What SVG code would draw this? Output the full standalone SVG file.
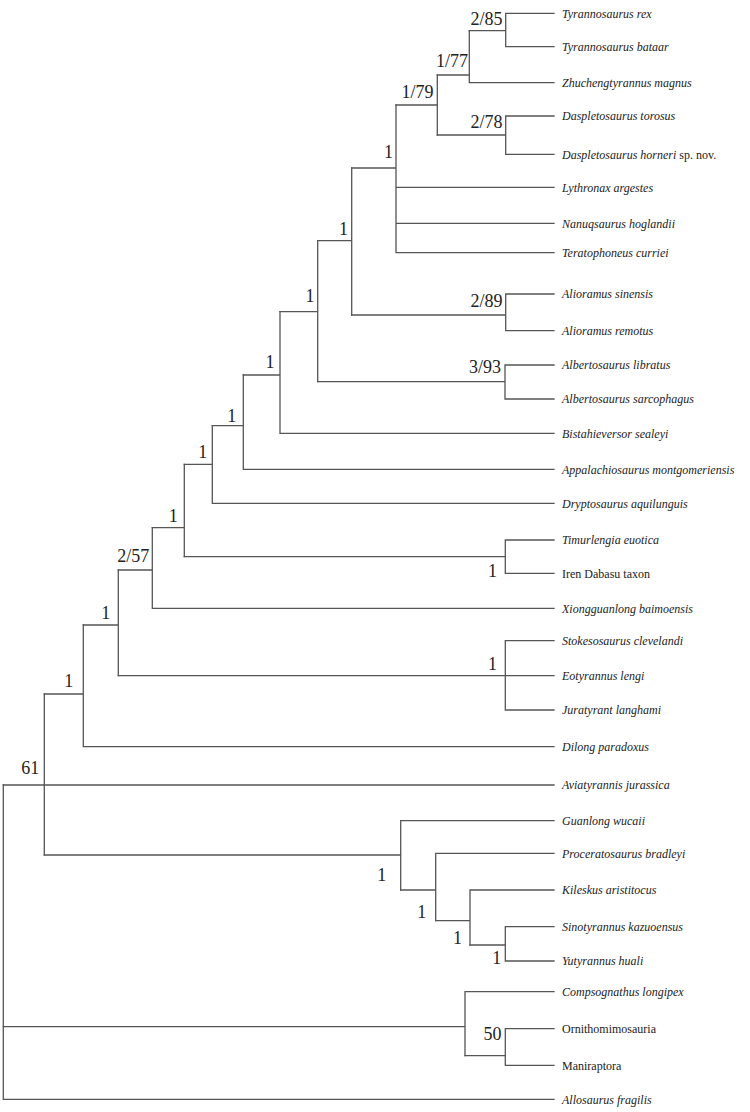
<svg xmlns="http://www.w3.org/2000/svg" width="750" height="1112" viewBox="0 0 750 1112">
<style>
.br{fill:none;stroke:#555;stroke-width:1.3;stroke-linecap:square}
.tip{font-family:"Liberation Serif","Times New Roman",serif;font-size:12px;font-style:italic;fill:#222}
.rm{font-style:normal}
.sup{font-family:"Liberation Serif","Times New Roman",serif;font-size:18px;fill:#222;text-anchor:end}
</style>
<rect width="750" height="1112" fill="#fff"/>
<g id="connectors" class="br">
<path d="M505.7,13.3H554M505.7,46.7H554M505.7,13.3V46.7M469.3,30.7H505.7"/>
<path d="M469.3,82.7H554M469.3,30.7V82.7M437.3,75H469.3"/>
<path d="M505.7,116H554M505.7,154.3H554M505.7,116V154.3M437.3,135H505.7"/>
<path d="M437.3,75V135M396,105H437.3"/>
<path d="M396,187.3H554M396,223.3H554M396,252.7H554M396,105V252.7M351.7,168H396"/>
<path d="M505.7,294H554M505.7,330.7H554M505.7,294V330.7M351.7,315H505.7"/>
<path d="M351.7,168V315M317.7,240.7H351.7"/>
<path d="M505,365H554M505,399H554M505,365V399M317.7,381.7H505"/>
<path d="M317.7,240.7V381.7M280,311.7H317.7"/>
<path d="M280,433.3H554M280,311.7V433.3M243.3,375H280"/>
<path d="M243.3,469.3H554M243.3,375V469.3M212.3,425.7H243.3"/>
<path d="M212.3,503.3H554M212.3,425.7V503.3M184.3,464.3H212.3"/>
<path d="M505.3,540H554M505.3,573.3H554M505.3,540V573.3M184.3,556.7H505.3"/>
<path d="M184.3,464.3V556.7M152.3,527.7H184.3"/>
<path d="M152.3,608.3H554M152.3,527.7V608.3M118.3,570H152.3"/>
<path d="M505.3,640.7H554M505.3,675.7H554M505.3,710H554M505.3,640.7V710M118.3,675.7H505.3"/>
<path d="M118.3,570V675.7M83.3,625H118.3"/>
<path d="M83.3,746.7H554M83.3,625V746.7M44.3,694H83.3"/>
<path d="M44.3,785H554"/>
<path d="M505.3,926.7H554M505.3,961H554M505.3,926.7V961M470,945H505.3"/>
<path d="M470,890H554M470,890V945M435.7,920.7H470"/>
<path d="M435.7,853.3H554M435.7,853.3V920.7M400.7,890H435.7"/>
<path d="M400.7,820.7H554M400.7,820.7V890M44.3,855H400.7"/>
<path d="M44.3,694V855M3.3,785H44.3"/>
<path d="M505.3,1028.7H554M505.3,1065.3H554M505.3,1028.7V1065.3M465,1055.7H505.3"/>
<path d="M465,991.7H554M465,991.7V1055.7M3.3,1026.7H465"/>
<path d="M3.3,1099.3H554M3.3,785V1099.3"/>
</g>
<g id="tip-01"><text class="tip" x="562" y="17.5">Tyrannosaurus rex</text></g>
<g id="tip-02"><text class="tip" x="562" y="50.9">Tyrannosaurus bataar</text></g>
<g id="tip-03"><text class="tip" x="562" y="86.9">Zhuchengtyrannus magnus</text></g>
<g id="tip-04"><text class="tip" x="562" y="120.2">Daspletosaurus torosus</text></g>
<g id="tip-05"><text class="tip" x="562" y="158.5">Daspletosaurus horneri<tspan class="rm"> sp. nov.</tspan></text></g>
<g id="tip-06"><text class="tip" x="562" y="191.5">Lythronax argestes</text></g>
<g id="tip-07"><text class="tip" x="562" y="227.5">Nanuqsaurus hoglandii</text></g>
<g id="tip-08"><text class="tip" x="562" y="256.9">Teratophoneus curriei</text></g>
<g id="tip-09"><text class="tip" x="562" y="298.2">Alioramus sinensis</text></g>
<g id="tip-10"><text class="tip" x="562" y="334.9">Alioramus remotus</text></g>
<g id="tip-11"><text class="tip" x="562" y="369.2">Albertosaurus libratus</text></g>
<g id="tip-12"><text class="tip" x="562" y="403.2">Albertosaurus sarcophagus</text></g>
<g id="tip-13"><text class="tip" x="562" y="437.5">Bistahieversor sealeyi</text></g>
<g id="tip-14"><text class="tip" x="562" y="473.5">Appalachiosaurus montgomeriensis</text></g>
<g id="tip-15"><text class="tip" x="562" y="507.5">Dryptosaurus aquilunguis</text></g>
<g id="tip-16"><text class="tip" x="562" y="544.2">Timurlengia euotica</text></g>
<g id="tip-17"><text class="tip rm" x="562" y="577.5">Iren Dabasu taxon</text></g>
<g id="tip-18"><text class="tip" x="562" y="612.5">Xiongguanlong baimoensis</text></g>
<g id="tip-19"><text class="tip" x="562" y="644.9">Stokesosaurus clevelandi</text></g>
<g id="tip-20"><text class="tip" x="562" y="679.9">Eotyrannus lengi</text></g>
<g id="tip-21"><text class="tip" x="562" y="714.2">Juratyrant langhami</text></g>
<g id="tip-22"><text class="tip" x="562" y="750.9">Dilong paradoxus</text></g>
<g id="tip-23"><text class="tip" x="562" y="789.2">Aviatyrannis jurassica</text></g>
<g id="tip-24"><text class="tip" x="562" y="824.9">Guanlong wucaii</text></g>
<g id="tip-25"><text class="tip" x="562" y="857.5">Proceratosaurus bradleyi</text></g>
<g id="tip-26"><text class="tip" x="562" y="894.2">Kileskus aristitocus</text></g>
<g id="tip-27"><text class="tip" x="562" y="930.9">Sinotyrannus kazuoensus</text></g>
<g id="tip-28"><text class="tip" x="562" y="965.2">Yutyrannus huali</text></g>
<g id="tip-29"><text class="tip" x="562" y="995.9">Compsognathus longipex</text></g>
<g id="tip-30"><text class="tip rm" x="562" y="1032.9">Ornithomimosauria</text></g>
<g id="tip-31"><text class="tip rm" x="562" y="1069.5">Maniraptora</text></g>
<g id="tip-32"><text class="tip" x="562" y="1103.5">Allosaurus fragilis</text></g>
<g id="node-2-85"><text class="sup" x="502.5" y="25">2/85</text></g>
<g id="node-1-77"><text class="sup" x="468" y="66.7">1/77</text></g>
<g id="node-1-79"><text class="sup" x="433.5" y="98.3">1/79</text></g>
<g id="node-2-78"><text class="sup" x="502.5" y="127.7">2/78</text></g>
<g id="node-a"><text class="sup" x="393" y="158.3">1</text></g>
<g id="node-b"><text class="sup" x="348" y="235">1</text></g>
<g id="node-2-89"><text class="sup" x="502.5" y="306.7">2/89</text></g>
<g id="node-c"><text class="sup" x="314.5" y="301.7">1</text></g>
<g id="node-3-93"><text class="sup" x="501" y="373.3">3/93</text></g>
<g id="node-d"><text class="sup" x="274.5" y="368.3">1</text></g>
<g id="node-e"><text class="sup" x="236.3" y="422.3">1</text></g>
<g id="node-f"><text class="sup" x="207.3" y="458.3">1</text></g>
<g id="node-g"><text class="sup" x="177.8" y="522">1</text></g>
<g id="node-2-57"><text class="sup" x="149.3" y="561.7">2/57</text></g>
<g id="node-h"><text class="sup" x="497" y="577.3">1</text></g>
<g id="node-i"><text class="sup" x="110.3" y="619">1</text></g>
<g id="node-j"><text class="sup" x="497" y="670">1</text></g>
<g id="node-k"><text class="sup" x="73.3" y="686.7">1</text></g>
<g id="node-61"><text class="sup" x="39.3" y="774.3">61</text></g>
<g id="node-l"><text class="sup" x="386.3" y="880.7">1</text></g>
<g id="node-m"><text class="sup" x="426.3" y="918.3">1</text></g>
<g id="node-n"><text class="sup" x="462" y="944">1</text></g>
<g id="node-o"><text class="sup" x="501.3" y="964">1</text></g>
<g id="node-50"><text class="sup" x="501.5" y="1040">50</text></g>
</svg>
